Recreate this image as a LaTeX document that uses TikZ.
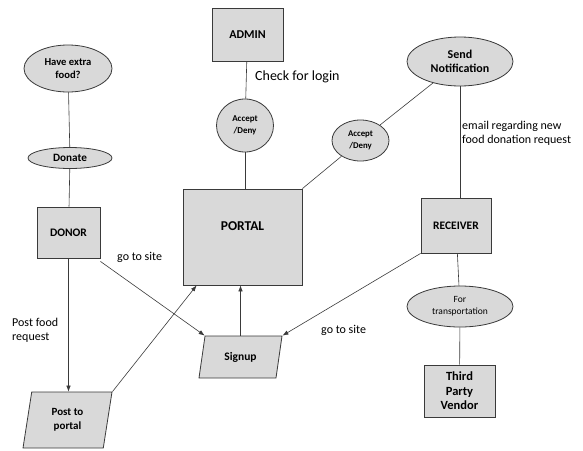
\documentclass[tikz,border=0pt]{standalone}
\usepackage{fontspec}
\setmainfont{Carlito}
\usetikzlibrary{shapes.geometric,arrows.meta}
\definecolor{boxfill}{HTML}{D9D9D9}
\definecolor{edge}{HTML}{3A3A3A}
\newcommand{\fs}[2]{\fontsize{#1}{#2}\selectfont}
\tikzset{
  base/.style={draw=edge, fill=boxfill, line width=0.8pt, inner sep=1pt, align=center, font=\bfseries\fs{11.5}{13}},
  rectbox/.style={base, rectangle},
  ellbox/.style={base, ellipse},
  parbox/.style={base, trapezium, trapezium stretches body, trapezium left angle=#1, trapezium right angle=180-#1},
  conn/.style={draw=edge, line width=0.6pt},
  arr/.style={conn, -{Latex[length=6pt,width=4.5pt]}},
  lbl/.style={font=\fs{12}{14}, align=left, anchor=west, inner sep=0pt},
}
\begin{document}
\begin{tikzpicture}[x=1pt,y=-1pt]
\useasboundingbox (0,0) rectangle (583,450);
% nodes
\node[rectbox, minimum width=71pt, minimum height=53pt, font=\bfseries\fs{12}{14}] (admin) at (247.5,34.5) {ADMIN};
\node[ellbox, minimum width=88pt, minimum height=47pt, font=\bfseries\fs{10.6}{13}] (extra) at (68,68.5) {Have extra\\food?};
\node[ellbox, minimum width=84pt, minimum height=21pt, font=\bfseries\fs{11.2}{13}] (donate) at (70,158) {Donate};
\node[rectbox, minimum width=63pt, minimum height=51pt] (donor) at (68.5,232.5) {DONOR};
\node[ellbox, minimum width=57pt, minimum height=53pt, inner sep=0pt, font=\bfseries\fs{9}{11.5}] (acc1) at (245,125.5) {Accept\\/Deny};
\node[rectbox, minimum width=119pt, minimum height=96pt,
  label={[font=\bfseries\fs{13.5}{15}, yshift=11pt]center:PORTAL}] (portal) at (242.5,237) {};
\node[ellbox, minimum width=106pt, minimum height=49pt, inner sep=0pt, font=\bfseries\fs{12}{14.5}] (notif) at (460,61.5) {Send\\Notification};
\node[ellbox, minimum width=57pt, minimum height=41pt, inner sep=0pt, font=\bfseries\fs{8.8}{11.5}] (acc2) at (360.5,140.5) {Accept\\/Deny};
\node[rectbox, minimum width=70pt, minimum height=55pt] (receiver) at (456,225.5) {RECEIVER};
\node[ellbox, minimum width=106pt, minimum height=41pt, inner sep=0pt, font=\fs{9.5}{12}] (transp) at (460,306.5) {For\\transportation};
\node[rectbox, minimum width=71pt, minimum height=52pt, inner sep=0pt, font=\bfseries\fs{12.5}{14.5}] (vendor) at (459.5,391) {Third\\Party\\Vendor};
\node[parbox=63.4, minimum width=83pt, minimum height=42pt] (signup) at (240.5,357) {Signup};
\node[parbox=70.3, minimum width=89pt, minimum height=56pt, font=\bfseries\fs{11}{13.5}] (post) at (67.5,420) {Post to\\portal};
% plain connectors
\draw[conn] (admin) -- (acc1);
\draw[conn] (acc1) -- (acc1 |- portal.north);
\draw[conn] (extra) -- (donate);
\draw[conn] (donate) -- (donor);
\draw[conn] (notif) -- (acc2);
\draw[conn] (acc2) -- (portal.north east);
\draw[conn] (notif.south) -- (receiver.north -| notif.south);
\draw[conn] (receiver) -- (transp);
\draw[conn] (transp) -- (vendor);
% arrows
\draw[arr] (donor.south) -- (post.top side -| donor.south);
\draw[arr] (post.top right corner) -- ([xshift=14pt]portal.south west);
\draw[arr] ([yshift=-3pt]donor.south east) -- (signup.top left corner);
\draw[arr] (signup.north) -- (portal.south -| signup.north);
\draw[arr] (receiver.south west) -- (signup.top right corner);
% labels
\node[lbl, font=\fs{14}{16}] (lcheck) at (255,77) {Check for login};
\node[lbl] (lemail) at (462,133) {email regarding new\\food donation request};
\node[lbl] (lgo1) at (117,257) {go to site};
\node[lbl] (lgo2) at (321,330) {go to site};
\node[lbl] (lpost) at (12,330) {Post food\\request};
\end{tikzpicture}
\end{document}
